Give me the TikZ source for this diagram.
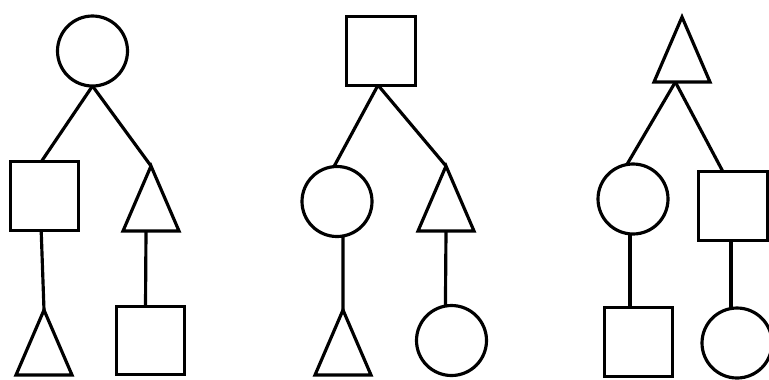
\documentclass[tikz,border=0pt]{standalone}
\usetikzlibrary{shapes.geometric}
\tikzset{
  forme/.style={draw=black, line width=0.095cm, inner sep=0pt, outer sep=0pt},
  rond/.style={forme, circle, minimum size=2.1cm},
  carre/.style={forme, rectangle, minimum size=2.05cm},
  tri/.style={forme, isosceles triangle, isosceles triangle stretches,
              shape border rotate=90, minimum width=1.68cm, minimum height=1.95cm, anchor=apex},
  lien/.style={line width=0.095cm, draw=black},
}
\begin{document}
\begin{tikzpicture}[x=0.03cm, y=-0.03cm]
\clip (0,0) rectangle (769,379);
\fill[white] (0,0) rectangle (769,379);
% arbre 1
\node[rond] (c1) at (92.5,51) {};
\node[carre] (s1) at (44.5,196) {};
\node[tri] (t1) at (151,166) {};
\node[tri] (t2) at (44,310) {};
\node[carre] (s2) at (150.5,340.5) {};
\draw[lien] (c1.south) -- ([xshift=-0.1cm]s1.north);
\draw[lien] (c1.south) -- (t1.apex);
\draw[lien] ([xshift=-0.1cm]s1.south) -- (t2.apex);
\draw[lien] ([xshift=-0.15cm]t1.south) -- ([xshift=-0.15cm]s2.north);
% arbre 2
\node[carre] (s3) at (381,51) {};
\node[rond] (c2) at (337,201.5) {};
\node[tri] (t3) at (446,166) {};
\node[tri] (t4) at (343,310) {};
\node[rond] (c3) at (451.5,340.5) {};
\draw[lien] ([xshift=-0.09cm]s3.south) -- (c2.95);
\draw[lien] ([xshift=-0.09cm]s3.south) -- (t3.apex);
\draw[lien] (c2.-80) -- (t4.apex);
\draw[lien] (t3.south) -- (c3.100);
% arbre 3
\node[tri] (t5) at (682,17) {};
\node[rond] (c4) at (633,199) {};
\node[carre] (s4) at (733,206) {};
\node[carre] (s5) at (638.5,342) {};
\node[rond] (c5) at (737,343) {};
\draw[lien] ([xshift=-0.2cm]t5.south) -- (c4.100);
\draw[lien] ([xshift=-0.2cm]t5.south) -- ([xshift=-0.3cm]s4.north);
\draw[lien] (c4.-95) -- (c4.-95 |- s5.north);
\draw[lien] (c5.100 |- s4.south) -- (c5.100);
\end{tikzpicture}
\end{document}
